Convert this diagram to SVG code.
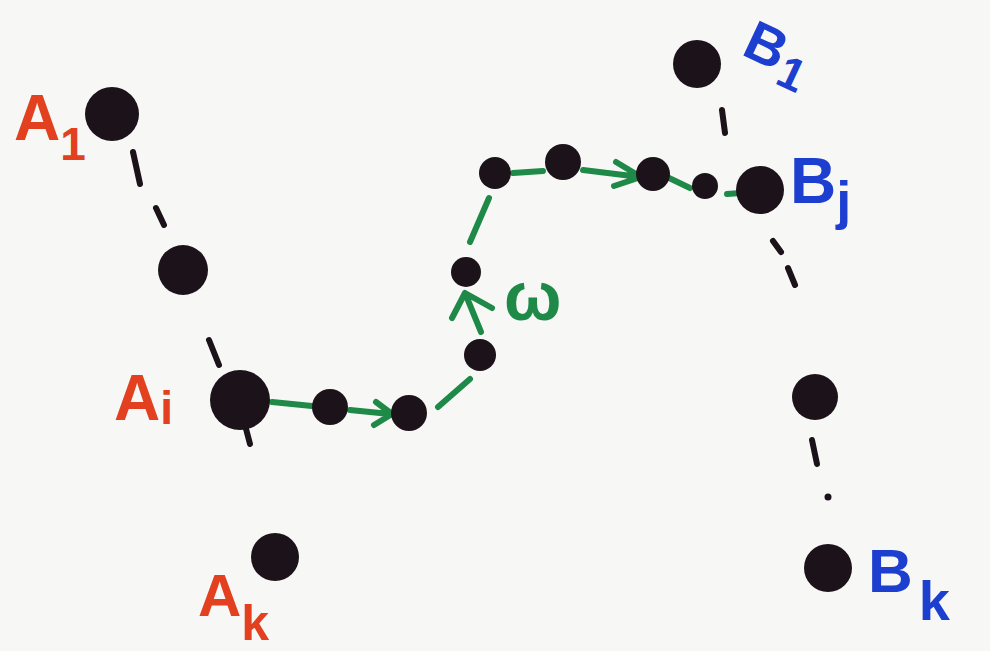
<svg xmlns="http://www.w3.org/2000/svg" width="990" height="651" viewBox="0 0 990 651">
<defs>
<style>
.dot{fill:#1c1219}
.blk{stroke:#1c1219;stroke-width:6;stroke-linecap:round;fill:none}
.grn{stroke:#1f8a48;stroke-width:6;stroke-linecap:round;stroke-linejoin:round;fill:none}
.ra{fill:#e2401f;font-family:"Liberation Sans",Arial,sans-serif;font-weight:bold}
.bl{fill:#1d3fcf;font-family:"Liberation Sans",Arial,sans-serif;font-weight:bold}
.gt{fill:#1f8a48;font-family:"Liberation Sans",Arial,sans-serif;font-weight:bold}
</style>
</defs>
<rect width="990" height="651" fill="#f7f7f6"/>
<g id="connectors">
<path class="blk" d="M133 152 L140 184 M156 208 L164 225 M209 340 L219 365 M245 425 L250 444 M722 110 L725 133 M773 241 L781 252 M788 268 L795 285 M812 440 L817 464"/>
<circle class="dot" cx="828" cy="497" r="3.5"/>
<path class="grn" d="M272 402 L312 406"/>
<path class="grn" d="M350 410 L390 414 M376 402 L392 414 L374 425"/>
<path class="grn" d="M438 407 L470 379"/>
<path class="grn" d="M481 332 L465 293 M452 318 L465 293 L492 308"/>
<path class="grn" d="M470 242 L489 198"/>
<path class="grn" d="M513 173 L543 171"/>
<path class="grn" d="M583 170 L640 177 M616 162 L641 177 L614 186"/>
<path class="grn" d="M667 177 L690 188"/>
<path class="grn" d="M727 194 L741 193"/>
</g>
<g id="A1"><circle class="dot" cx="112" cy="114" r="27"/><text class="ra" x="14" y="140" font-size="64">A<tspan font-size="46" dy="20">1</tspan></text></g>
<g id="A2"><circle class="dot" cx="183" cy="270" r="25"/></g>
<g id="Ai"><circle class="dot" cx="240" cy="400" r="30"/><text class="ra" x="114" y="420" font-size="64">A<tspan font-size="46" dy="4">i</tspan></text></g>
<g id="Ak"><circle class="dot" cx="275" cy="557" r="24"/><text class="ra" x="198" y="616" font-size="60">A<tspan font-size="50" dy="24">k</tspan></text></g>
<g id="P1"><circle class="dot" cx="330" cy="407" r="18"/></g>
<g id="P2"><circle class="dot" cx="409" cy="413" r="18"/></g>
<g id="P3"><circle class="dot" cx="480" cy="355" r="16"/></g>
<g id="P4"><circle class="dot" cx="466" cy="272" r="15"/><text class="gt" x="504" y="320" font-size="68">ω</text></g>
<g id="P5"><circle class="dot" cx="495" cy="173" r="16"/></g>
<g id="P6"><circle class="dot" cx="563" cy="162" r="18"/></g>
<g id="P7"><circle class="dot" cx="653" cy="174" r="17"/></g>
<g id="P8"><circle class="dot" cx="705" cy="186" r="13"/></g>
<g id="B1"><circle class="dot" cx="697" cy="64" r="24"/><text class="bl" x="0" y="0" font-size="56" transform="translate(740 54) rotate(25)">B<tspan font-size="46" dx="2" dy="12">1</tspan></text></g>
<g id="Bj"><circle class="dot" cx="760" cy="190" r="24"/><text class="bl" x="790" y="203" font-size="64">B<tspan font-size="54" dy="16">j</tspan></text></g>
<g id="B2"><circle class="dot" cx="815" cy="397" r="23"/></g>
<g id="Bk"><circle class="dot" cx="828" cy="568" r="24"/><text class="bl" x="868" y="592" font-size="62">B<tspan font-size="56" dx="6" dy="28">k</tspan></text></g>
</svg>
